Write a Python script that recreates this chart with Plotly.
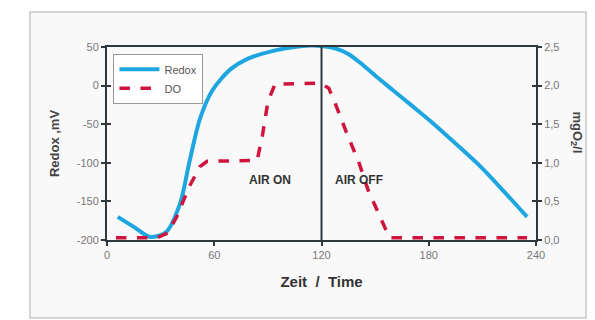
import plotly.graph_objects as go

# ---- data ----
redox_t = [6, 15, 24, 33, 41, 46, 52, 59, 69, 78, 93, 108, 115, 121, 128, 135, 142, 150, 160, 170, 182, 195, 209, 222, 235]
redox_mv = [-170, -183, -196, -190, -152, -100, -43, -6, 21, 34, 45, 51, 52, 51, 48, 41, 29, 13, -6, -25, -48, -75, -105, -137, -170]

do_t = [5, 28, 34, 39, 46, 52, 56, 84, 87, 90, 94, 119, 124, 128, 134, 141, 146, 158, 235]
do_mg = [0.03, 0.03, 0.09, 0.3, 0.69, 0.95, 1.02, 1.03, 1.36, 1.79, 2.02, 2.03, 1.97, 1.75, 1.39, 1.0, 0.65, 0.03, 0.03]

x_ticks = [0, 60, 120, 180, 240]
y_ticks = [-200, -150, -100, -50, 0, 50]
y_ticktext = ["-200", "-150", "-100", "-50", "0", "50"]
y2_ticks = [0, 0.5, 1.0, 1.5, 2.0, 2.5]
y2_ticktext = ["0,0", "0,5", "1,0", "1,5", "2,0", "2,5"]

FONT = "Arial, Liberation Sans, sans-serif"
AXC = "#2e383d"
TICKC = "#777777"

fig = go.Figure()
fig.add_trace(go.Scatter(x=redox_t, y=redox_mv, mode="lines", name="Redox",
                         line=dict(color="#1ea6e0", width=4, shape="spline", smoothing=0.8),
                         yaxis="y"))
fig.add_trace(go.Scatter(x=do_t, y=do_mg, mode="lines", name="DO",
                         line=dict(color="#d0143e", width=3.5, dash="dash"),
                         yaxis="y2"))

fig.update_layout(
    width=587, height=312,
    margin=dict(l=99, r=59, t=39, b=80),
    paper_bgcolor="white",
    plot_bgcolor="#f6f0f0",
    font=dict(family=FONT, color=TICKC, size=11),
    showlegend=True,
    legend=dict(x=0.015, y=0.965, xanchor="left", yanchor="top",
                bgcolor="white", bordercolor="#999999", borderwidth=1,
                font=dict(size=11, color="#555555"), tracegroupgap=0,
                itemwidth=40),
    xaxis=dict(range=[0, 240], tickvals=x_ticks, ticks="outside", ticklen=4,
               tickwidth=2, tickcolor=AXC, showline=True, linecolor=AXC, linewidth=2,
               mirror=True, showgrid=False, zeroline=False,
               tickfont=dict(size=11, color=TICKC),
               title=dict(text="<b>Zeit  /  Time</b>", font=dict(size=15, color="#333333"),
                          standoff=16)),
    yaxis=dict(range=[-200, 50], tickvals=y_ticks, ticktext=y_ticktext, ticks="outside",
               ticklen=4, tickwidth=2, tickcolor=AXC, showline=True, linecolor=AXC,
               linewidth=2, showgrid=False, zeroline=False,
               tickfont=dict(size=11, color=TICKC),
               title=dict(text="<b>Redox ,mV</b>", font=dict(size=13, color="#444444"),
                          standoff=14)),
    yaxis2=dict(range=[0, 2.5], tickvals=y2_ticks, ticktext=y2_ticktext, overlaying="y",
                side="right", ticks="outside", ticklen=4, tickwidth=2, tickcolor=AXC,
                showline=True, linecolor=AXC, linewidth=2, showgrid=False, zeroline=False,
                tickfont=dict(size=11, color=TICKC)),
    yaxis3=dict(range=[-200, 50], tickvals=y_ticks, overlaying="y", side="left",
                ticks="inside", ticklen=4, tickwidth=2, tickcolor=AXC, showticklabels=False,
                showgrid=False, zeroline=False),
    yaxis4=dict(range=[0, 2.5], tickvals=y2_ticks, overlaying="y", side="right",
                ticks="inside", ticklen=4, tickwidth=2, tickcolor=AXC, showticklabels=False,
                showgrid=False, zeroline=False),
)

# invisible traces to activate inner tick axes
fig.add_trace(go.Scatter(x=[None], y=[None], yaxis="y3", showlegend=False, hoverinfo="skip"))
fig.add_trace(go.Scatter(x=[None], y=[None], yaxis="y4", showlegend=False, hoverinfo="skip"))

# outer frame (scanned page border)
fig.add_shape(type="rect", xref="paper", yref="paper",
              x0=-77/429, x1=1 + 50/429, y0=-78/193, y1=1 + 35/193,
              line=dict(color="#c8c8c8", width=1.5), fillcolor="#f9f9f9", layer="below")

# AIR ON / OFF divider
fig.add_shape(type="line", xref="x", yref="paper", x0=120, x1=120, y0=0, y1=1,
              line=dict(color=AXC, width=2))

fig.add_annotation(x=91, y=-122, xref="x", yref="y", text="<b>AIR ON</b>", showarrow=False,
                   font=dict(size=12, color="#333333"))
fig.add_annotation(x=141, y=-122, xref="x", yref="y", text="<b>AIR OFF</b>", showarrow=False,
                   font=dict(size=12, color="#333333"))

# right axis title, rotated clockwise
fig.add_annotation(x=1 + 51/429, y=0.56, xref="paper", yref="paper",
                   text="<b>mgO<sub>2</sub>/l</b>", textangle=90, showarrow=False,
                   font=dict(size=13, color="#444444"))

fig.write_html("out.html")
